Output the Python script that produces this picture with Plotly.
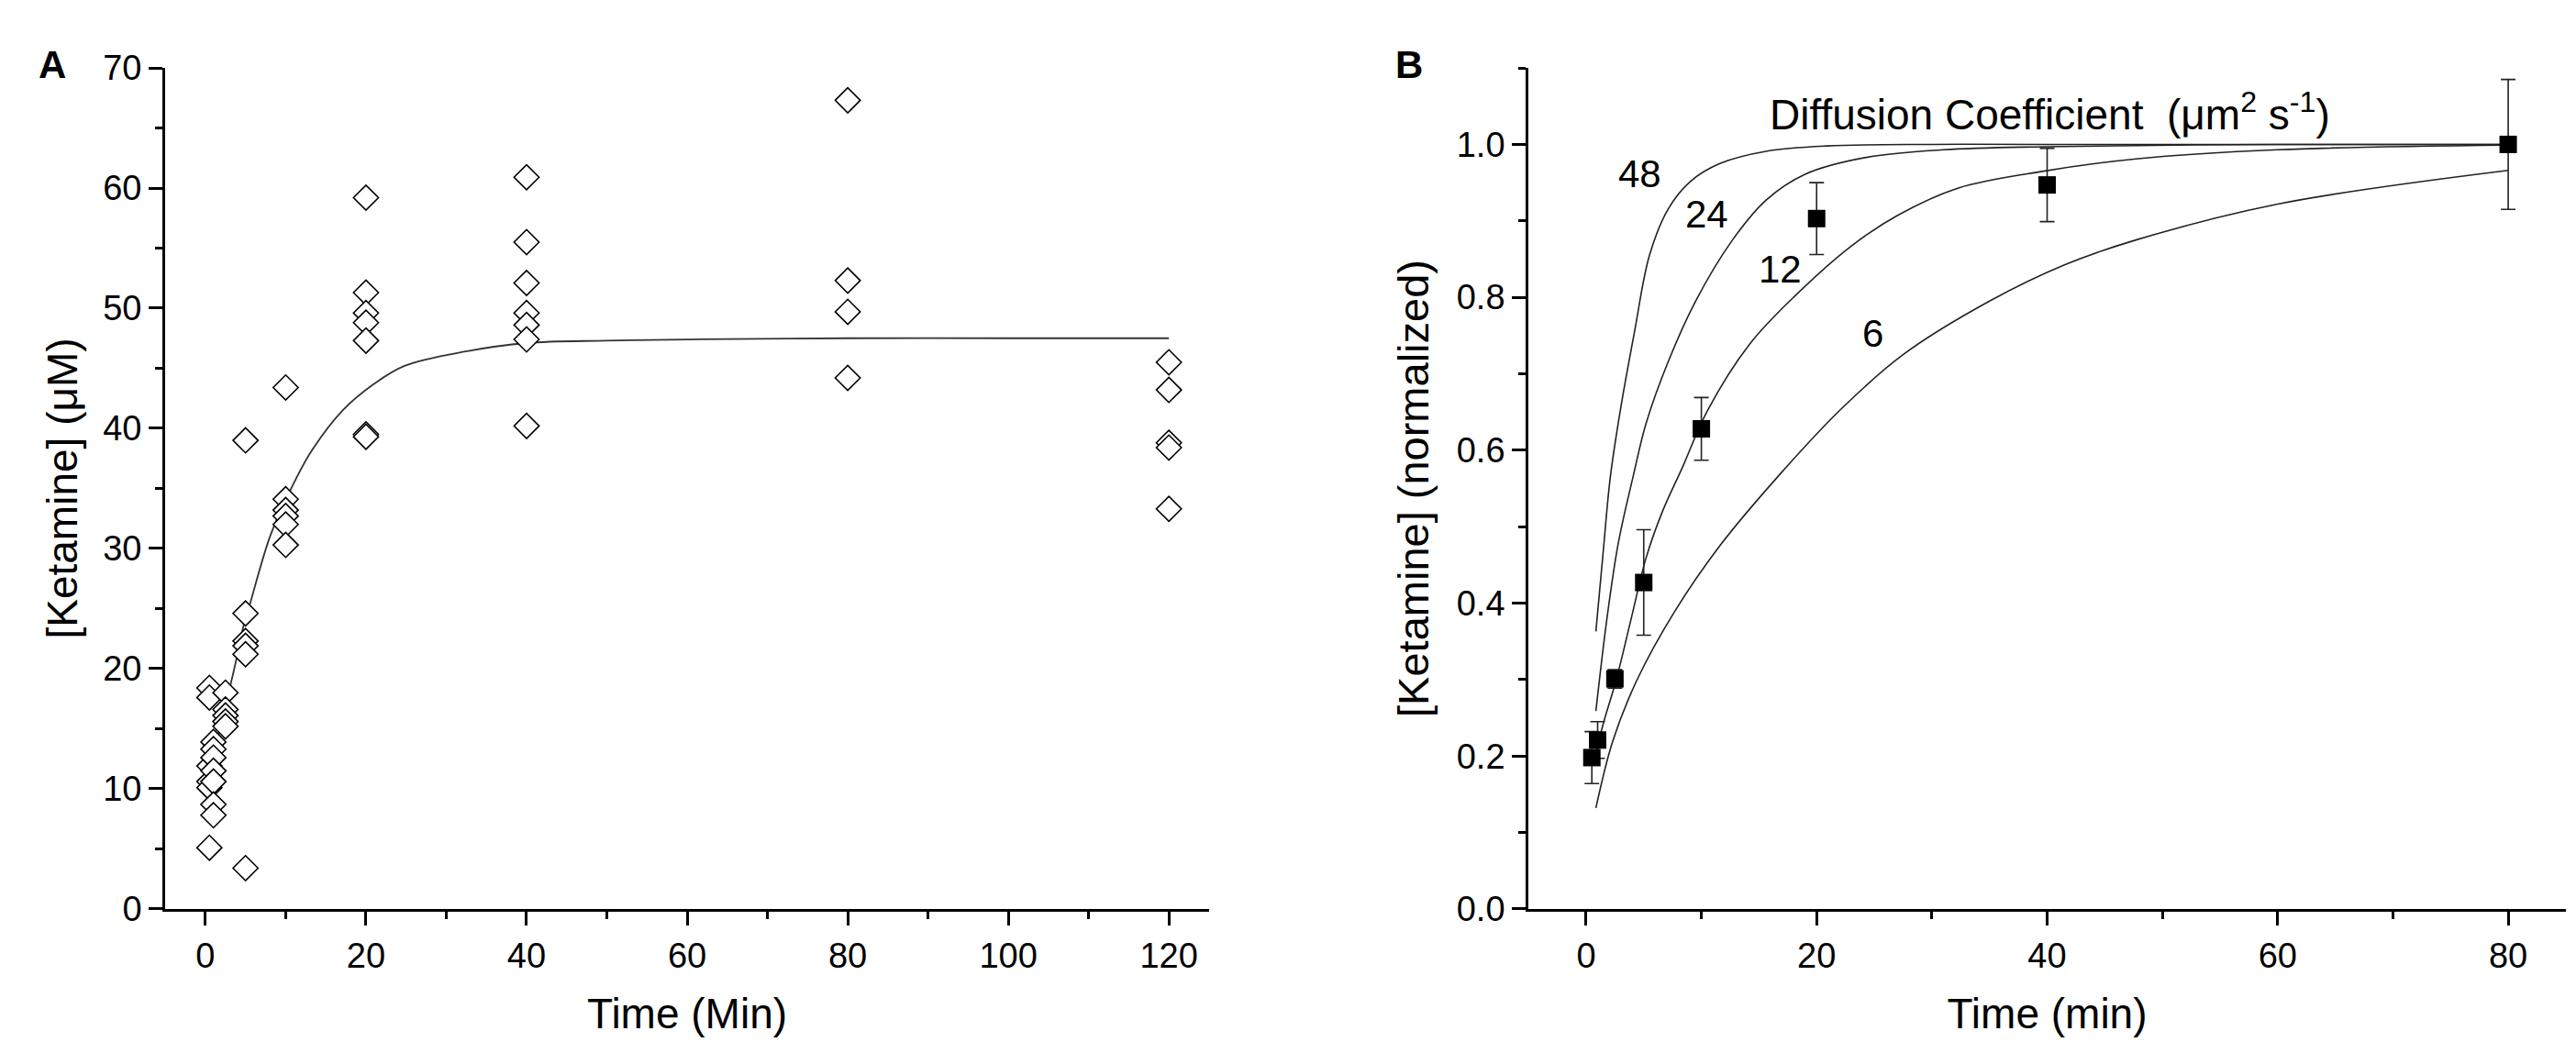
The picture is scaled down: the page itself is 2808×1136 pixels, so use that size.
import plotly.graph_objects as go

# panel A: measured ketamine (uM) at each time (min)
a_t = [0.5] * 6 + [1] * 7 + [2.5] * 5 + [5] * 6 + [10] * 6 + [20] * 7 + [40] * 7 + [80] * 4 + [120] * 5
a_y = [18.4, 17.6, 11.9, 10.6, 10.1, 5.1,
       13.9, 13.3, 12.6, 11.5, 10.6, 8.7, 7.8,
       18.0, 16.6, 16.1, 15.6, 15.2,
       39.0, 24.6, 22.3, 21.9, 21.2, 3.4,
       43.4, 34.1, 33.2, 32.7, 32.0, 30.3,
       59.2, 51.3, 49.6, 48.8, 47.3, 39.5, 39.3,
       60.9, 55.5, 52.1, 49.6, 48.6, 47.4, 40.2,
       67.3, 52.3, 49.7, 44.2,
       45.5, 43.2, 38.8, 38.4, 33.3]

# panel A: fitted line
fit_t = [0.5, 1, 3, 3.7, 4.8, 5.6, 8.1, 10.9, 13.3, 17.1, 21, 24.8, 32.4, 40, 50, 60, 80, 100, 120]
fit_y = [11.0, 12.7, 18.3, 20.3, 23.7, 25.5, 31.1, 35.3, 38.2, 41.5, 43.7, 45.2, 46.4, 47.1, 47.3, 47.4, 47.5, 47.5, 47.5]

# panel B: normalized means +- error
b_t = [0.5, 1, 2.5, 5, 10, 20, 40, 80]
b_v = [0.198, 0.221, 0.301, 0.427, 0.628, 0.903, 0.947, 1.0]
b_err = [0.034, 0.024, 0.012, 0.069, 0.041, 0.047, 0.048, 0.085]

# panel B: model curves for each diffusion coefficient
c48_t = [0.85, 1.5, 2.1, 3.0, 4.2, 5.5, 7.1, 9.0, 11.6, 15.6, 20.9, 30, 40, 60, 80]
c48_v = [0.363, 0.47, 0.565, 0.655, 0.755, 0.855, 0.915, 0.951, 0.975, 0.991, 0.998, 1.0, 1.0, 1.0, 1.0]
c24_t = [0.85, 1.8, 2.8, 4.1, 5.2, 7.1, 9.5, 12.7, 15.6, 19.0, 24.3, 31.0, 39.7, 60, 80]
c24_v = [0.259, 0.379, 0.479, 0.567, 0.635, 0.715, 0.795, 0.875, 0.927, 0.961, 0.983, 0.993, 0.997, 1.0, 1.0]
c12_t = [0.85, 1.5, 2.6, 3.9, 5.2, 6.6, 8.4, 10.5, 14.2, 18.2, 23.0, 27.0, 32.3, 39.7, 47.7, 60, 80]
c12_v = [0.205, 0.243, 0.299, 0.379, 0.459, 0.519, 0.579, 0.651, 0.739, 0.803, 0.867, 0.907, 0.943, 0.965, 0.981, 0.993, 0.999]
c6_t = [0.85, 2.3, 4.4, 7.6, 11.6, 16.9, 22.2, 27.5, 35.0, 41.6, 47.7, 60, 80]
c6_v = [0.132, 0.219, 0.299, 0.387, 0.475, 0.57, 0.655, 0.725, 0.795, 0.843, 0.875, 0.922, 0.966]
curves = [("48", c48_t, c48_v, 4.7, 0.961), ("24", c24_t, c24_v, 10.5, 0.909),
          ("12", c12_t, c12_v, 16.8, 0.837), ("6", c6_t, c6_v, 24.9, 0.753)]

FONT = "Arial, Liberation Sans, sans-serif"

fig = go.Figure()

fig.add_trace(go.Scatter(x=fit_t, y=fit_y, mode="lines", line=dict(color="#333", width=1.8, shape="spline"),
                         xaxis="x", yaxis="y"))
fig.add_trace(go.Scatter(x=a_t, y=a_y, mode="markers", xaxis="x", yaxis="y",
                         marker=dict(symbol="diamond", size=21, color="white",
                                     line=dict(color="black", width=1.6))))

for name, t, v, lx, ly in curves:
    fig.add_trace(go.Scatter(x=t, y=v, mode="lines", line=dict(color="#222", width=1.6, shape="spline"),
                             xaxis="x2", yaxis="y2"))
    fig.add_annotation(x=lx, y=ly, xref="x2", yref="y2", text=name, showarrow=False,
                       font=dict(size=42, color="black", family=FONT))

fig.add_trace(go.Scatter(x=b_t, y=b_v, mode="markers", xaxis="x2", yaxis="y2",
                         marker=dict(symbol="square", size=19, color="black"),
                         error_y=dict(type="data", array=b_err, color="#222", thickness=1.6, width=8)))

fig.add_annotation(x=15.8, y=1.042, xref="x2", yref="y2", xanchor="left",
                   text="Diffusion Coefficient  (\u03bcm<sup>2</sup> s<sup>-1</sup>)", showarrow=False,
                   font=dict(size=46, color="black", family=FONT))
fig.add_annotation(x=0.0114, y=0.967, xref="paper", yref="paper", text="<b>A</b>", showarrow=False,
                   font=dict(size=42, color="black", family=FONT))
fig.add_annotation(x=0.5442, y=0.967, xref="paper", yref="paper", text="<b>B</b>", showarrow=False,
                   font=dict(size=42, color="black", family=FONT))

axis_common = dict(showgrid=False, zeroline=False, showline=True, linecolor="black", linewidth=3,
                   ticks="outside", ticklen=15, tickwidth=3, tickcolor="black",
                   tickfont=dict(size=38, color="black", family=FONT), automargin=False)

fig.update_layout(
    width=2808, height=1136, margin=dict(l=0, r=0, t=0, b=0),
    paper_bgcolor="white", plot_bgcolor="white", showlegend=False,
    font=dict(family=FONT, color="black"),
    xaxis=dict(axis_common, domain=[0.0613, 0.4665], range=[-5, 125], tickvals=[0, 20, 40, 60, 80, 100, 120],
               minor=dict(tickvals=[10, 30, 50, 70, 90, 110], ticks="outside", ticklen=8, tickwidth=3, tickcolor="black"),
               title=dict(text="Time (Min)", font=dict(size=46), standoff=28), anchor="y"),
    yaxis=dict(axis_common, domain=[0.1347, 0.9419], range=[0, 70], dtick=10,
               minor=dict(dtick=5, ticks="outside", ticklen=8, tickwidth=3, tickcolor="black"),
               title=dict(text="[Ketamine] (\u03bcM)", font=dict(size=46), standoff=14), anchor="x"),
    xaxis2=dict(axis_common, domain=[0.5905, 0.9932], range=[-5, 85], tickvals=[0, 20, 40, 60, 80],
                minor=dict(tickvals=[10, 30, 50, 70], ticks="outside", ticklen=8, tickwidth=3, tickcolor="black"),
                title=dict(text="Time (min)", font=dict(size=46), standoff=28), anchor="y2"),
    yaxis2=dict(axis_common, domain=[0.1347, 0.9419], range=[0, 1.1001], tickvals=[0, 0.2, 0.4, 0.6, 0.8, 1.0],
                tickformat=".1f",
                minor=dict(tickvals=[0.1, 0.3, 0.5, 0.7, 0.9, 1.1], ticks="outside", ticklen=8, tickwidth=3, tickcolor="black"),
                title=dict(text="[Ketamine] (normalized)", font=dict(size=47), standoff=16), anchor="x2"),
)

fig.write_html("out.html")
